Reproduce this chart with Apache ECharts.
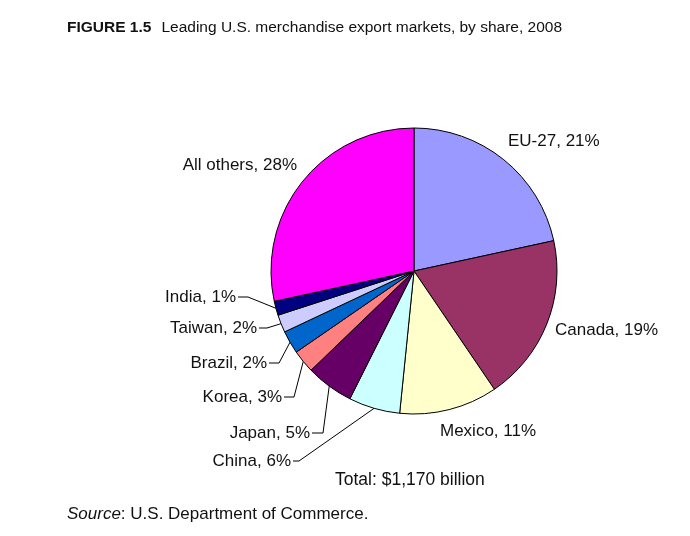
<!DOCTYPE html>
<html>
<head>
<meta charset="utf-8">
<script src="https://cdn.jsdelivr.net/npm/echarts@6/dist/echarts.min.js"></script>
<style>
  html, body { margin: 0; padding: 0; background: #fff; }
  #chart { width: 690px; height: 536px; }
</style>
</head>
<body>
<div id="chart"></div>
<script>
// ---- data ----
var categories = ['EU-27', 'Canada', 'Mexico', 'China', 'Japan', 'Korea', 'Brazil', 'Taiwan', 'India', 'All others'];
var shares = [21.6, 18.9, 11.1, 5.8, 5.4, 2.6, 2.6, 2.0, 1.6, 28.4];
var shownPct = [21, 19, 11, 6, 5, 3, 2, 2, 1, 28];
var colors = ['#9999FF', '#993366', '#FFFFCC', '#CCFFFF', '#660066', '#FF8080', '#0066CC', '#CCCCFF', '#000080', '#FF00FF'];

// ---- layout / style ----
var FONT = '"Liberation Sans", Arial, sans-serif';
var CX = 414, CY = 271, R = 143;
// label anchor: [x, y, align, hasLine]
var labelAnchors = [
  [508, 141, 'left', false],
  [555, 330, 'left', false],
  [440, 431, 'left', false],
  [291, 461, 'right', true],
  [310, 433, 'right', true],
  [282, 397, 'right', true],
  [267, 363, 'right', true],
  [257, 328, 'right', true],
  [236, 297, 'right', true],
  [297, 165, 'right', false]
];
var kneeGap = [0, 0, 0, 6, 11, 10, 10, 8, 10, 0];

var total = shares.reduce(function (a, b) { return a + b; }, 0);
function edgePoint(i) {
  var cum = 0;
  for (var k = 0; k < i; k++) cum += shares[k];
  var theta = (cum + shares[i] / 2) / total * 2 * Math.PI;
  return [CX + R * Math.sin(theta), CY - R * Math.cos(theta)];
}

var chart = echarts.init(document.getElementById('chart'), null, { renderer: 'canvas' });

var pieData = categories.map(function (name, i) {
  return {
    name: name,
    value: shares[i],
    itemStyle: { color: colors[i] },
    labelLine: { show: labelAnchors[i][3] }
  };
});

var option = {
  backgroundColor: '#ffffff',
  animation: false,
  title: [
    {
      text: '{b|FIGURE 1.5}  {n|Leading U.S. merchandise export markets, by share, 2008}',
      left: 67, top: 19, padding: 0,
      textStyle: {
        rich: {
          b: { fontFamily: FONT, fontWeight: 'bold', fontSize: 15.5, color: '#111' },
          n: { fontFamily: FONT, fontWeight: 'normal', fontSize: 15.5, color: '#111' }
        }
      }
    },
    {
      text: 'Total: $1,170 billion',
      left: 335, top: 471, padding: 0,
      textStyle: { fontFamily: FONT, fontWeight: 'normal', fontSize: 17.5, color: '#111' }
    },
    {
      text: '{i|Source}{n|: U.S. Department of Commerce.}',
      left: 67, top: 506, padding: 0,
      textStyle: {
        fontWeight: 'normal',
        rich: {
          i: { fontFamily: FONT, fontStyle: 'italic', fontWeight: 'normal', fontSize: 17, color: '#111' },
          n: { fontFamily: FONT, fontWeight: 'normal', fontSize: 17, color: '#111' }
        }
      }
    }
  ],
  series: [{
    type: 'pie',
    center: [CX, CY],
    radius: [0, R],
    startAngle: 90,
    clockwise: true,
    avoidLabelOverlap: false,
    itemStyle: { borderColor: '#000', borderWidth: 1 },
    label: {
      show: true,
      position: 'outside',
      fontFamily: FONT,
      fontSize: 17,
      color: '#111',
      formatter: function (p) { return p.name + ', ' + shownPct[p.dataIndex] + '%'; }
    },
    labelLine: {
      show: true,
      length: 10,
      length2: 10,
      lineStyle: { color: '#000', width: 1 }
    },
    labelLayout: function (params) {
      var i = params.dataIndex;
      var a = labelAnchors[i];
      var res = { x: a[0], y: a[1], align: a[2], verticalAlign: 'middle' };
      if (a[3]) {
        var e = edgePoint(i);
        res.labelLinePoints = [e, [a[0] + 2 + kneeGap[i], a[1]], [a[0] + 2, a[1]]];
      }
      return res;
    },
    emphasis: { disabled: true },
    data: pieData
  }]
};
chart.setOption(option);
</script>
</body>
</html>
